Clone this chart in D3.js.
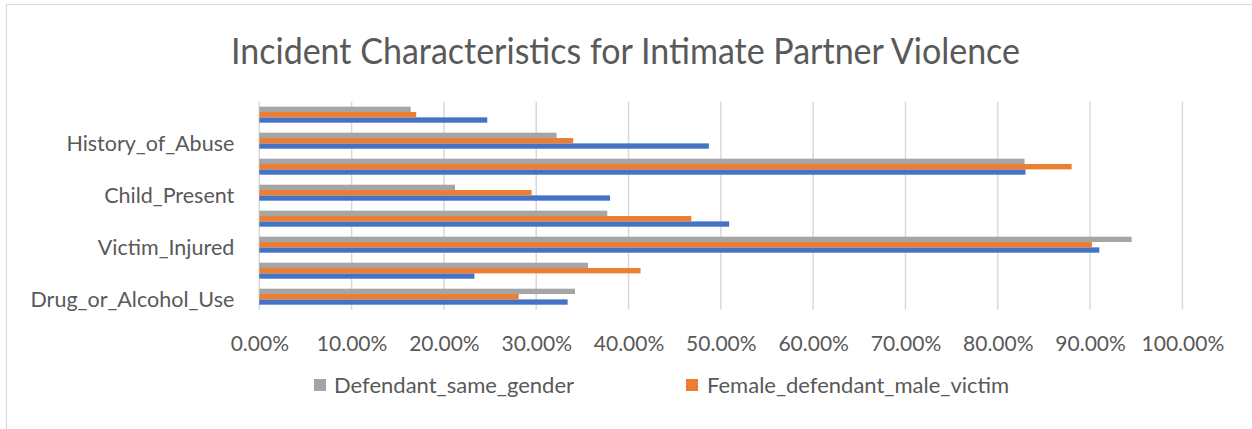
<!DOCTYPE html>
<html>
<head>
<meta charset="utf-8">
<script src="https://cdn.jsdelivr.net/npm/d3@7"></script>
<style>
  html, body { margin: 0; padding: 0; background: #fff; }
  svg { display: block; }
  text { font-family: "Lato", "Open Sans", sans-serif; fill: #595959; }
</style>
</head>
<body>
<svg id="chart" width="1252" height="429"></svg>
<script>
// ---- Data (bottom category first, as in the source chart) ----
const categories = [
  "Drug_or_Alcohol_Use",
  "Weapon_Used",
  "Victim_Injured",
  "Victim_Afraid",
  "Child_Present",
  "Police_Called",
  "History_of_Abuse",
  "Prior_Protective_Order"
];
const shownCategoryLabels = ["Drug_or_Alcohol_Use", "Victim_Injured", "Child_Present", "History_of_Abuse"];
const seriesNames = ["Male_defendant_female_victim", "Female_defendant_male_victim", "Defendant_same_gender"];
const maleDefFemaleVictim = [0.334, 0.233, 0.910, 0.509, 0.380, 0.830, 0.487, 0.247];
const femaleDefMaleVictim = [0.281, 0.413, 0.902, 0.468, 0.295, 0.880, 0.340, 0.170];
const defSameGender       = [0.342, 0.356, 0.945, 0.377, 0.212, 0.829, 0.322, 0.164];
const xTicks = [0, 0.1, 0.2, 0.3, 0.4, 0.5, 0.6, 0.7, 0.8, 0.9, 1.0];
const legendSeries = ["Defendant_same_gender", "Female_defendant_male_victim"];
const title = "Incident Characteristics for Intimate Partner Violence";

const colors = {
  "Male_defendant_female_victim": "#4472C4",
  "Female_defendant_male_victim": "#ED7D31",
  "Defendant_same_gender": "#A5A5A5"
};
const seriesValues = {
  "Male_defendant_female_victim": maleDefFemaleVictim,
  "Female_defendant_male_victim": femaleDefMaleVictim,
  "Defendant_same_gender": defSameGender
};

const svg = d3.select("#chart");

// chart frame
svg.append("path")
  .attr("d", "M6.5,440 L6.5,4.5 L1260,4.5")
  .attr("fill", "none").attr("stroke", "#D9D9D9").attr("stroke-width", 1.2);

// title
svg.append("text")
  .attr("x", 625.5).attr("y", 64)
  .attr("text-anchor", "middle")
  .style("font-size", "36px").style("font-weight", 400)
  .attr("textLength", 789).attr("lengthAdjust", "spacingAndGlyphs")
  .text(title);

const plot = { left: 259.3, right: 1182.4, top: 101.7, bottom: 309.7 };

const x = d3.scaleLinear().domain([0, 1]).range([plot.left, plot.right]);
const y = d3.scaleBand().domain(categories).range([plot.bottom, plot.top])
  .paddingInner(0.385).paddingOuter(0.1925);
const ySub = d3.scaleBand().domain(seriesNames.slice().reverse()).range([0, y.bandwidth()]);

// gridlines
svg.append("g").selectAll("line").data(xTicks).join("line")
  .attr("x1", d => x(d)).attr("x2", d => x(d))
  .attr("y1", plot.top).attr("y2", plot.bottom)
  .attr("stroke", "#D9D9D9").attr("stroke-width", 1.5);

// x axis labels via d3 axis
const xAxis = svg.append("g")
  .attr("transform", `translate(0,${plot.bottom})`)
  .call(d3.axisBottom(x).tickValues(xTicks).tickFormat(d3.format(".2%")).tickSize(0).tickPadding(26));
xAxis.select(".domain").remove();
xAxis.selectAll("text").style("font-size", "21px").attr("fill", "#595959");

// y axis labels
const yAxis = svg.append("g")
  .attr("transform", `translate(${plot.left},0)`)
  .call(d3.axisLeft(y).tickFormat(d => shownCategoryLabels.includes(d) ? d : "").tickSize(0).tickPadding(25));
yAxis.select(".domain").remove();
yAxis.selectAll("text").style("font-size", "21.5px").attr("fill", "#595959").attr("dy", "0.5em");

// bars
const groups = svg.append("g").selectAll("g").data(categories).join("g")
  .attr("transform", d => `translate(0,${y(d)})`);
groups.selectAll("rect")
  .data((c, i) => seriesNames.map(s => ({ s, v: seriesValues[s][i] })))
  .join("rect")
  .attr("x", x(0))
  .attr("y", d => ySub(d.s))
  .attr("width", d => x(d.v) - x(0))
  .attr("height", ySub.bandwidth())
  .attr("fill", d => colors[d.s]);

// legend
const legendPos = [{ sq: 314, tx: 334, w: 241 }, { sq: 686, tx: 707, w: 306 }];
const legend = svg.append("g").selectAll("g").data(legendSeries).join("g");
legend.append("rect")
  .attr("x", (d, i) => legendPos[i].sq).attr("y", 379)
  .attr("width", 12).attr("height", 12)
  .attr("fill", d => colors[d]);
legend.append("text")
  .attr("x", (d, i) => legendPos[i].tx).attr("y", 393)
  .style("font-size", "22px")
  .text(d => d);
</script>
</body>
</html>
